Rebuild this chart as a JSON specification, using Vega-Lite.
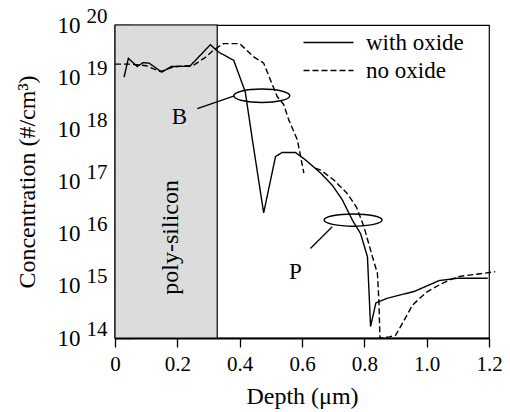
{
  "$schema": "https://vega.github.io/schema/vega-lite/v6.json",
  "width": 374,
  "height": 313,
  "autosize": {"type": "none"},
  "padding": {"left": 115, "top": 25, "right": 21, "bottom": 74},
  "background": "white",
  "config": {
    "font": "Liberation Serif",
    "view": {"stroke": "black", "strokeWidth": 1.2},
    "text": {"font": "Liberation Serif"},
    "axis": {"grid": false, "labelColor": "black", "titleColor": "black", "titleFontWeight": "normal", "labelFlush": false, "labelOverlap": false,
      "labelFont": "Liberation Serif", "titleFont": "Liberation Serif"},
    "legend": {"labelFont": "Liberation Serif"}
  },
  "datasets": {
    "poly": [{"x0": 0, "x1": 0.328, "y0": 1e14, "y1": 1e20}],
    "curves": [
      {"series": "with oxide", "curve": "solid", "x": 0.029, "c": 1.0e19},
      {"series": "with oxide", "curve": "solid", "x": 0.043, "c": 2.3e19},
      {"series": "with oxide", "curve": "solid", "x": 0.071, "c": 1.6e19},
      {"series": "with oxide", "curve": "solid", "x": 0.09, "c": 1.9e19},
      {"series": "with oxide", "curve": "solid", "x": 0.11, "c": 1.85e19},
      {"series": "with oxide", "curve": "solid", "x": 0.15, "c": 1.25e19},
      {"series": "with oxide", "curve": "solid", "x": 0.18, "c": 1.6e19},
      {"series": "with oxide", "curve": "solid", "x": 0.24, "c": 1.62e19},
      {"series": "with oxide", "curve": "solid", "x": 0.273, "c": 2.6e19},
      {"series": "with oxide", "curve": "solid", "x": 0.306, "c": 4.2e19},
      {"series": "with oxide", "curve": "solid", "x": 0.327, "c": 3.2e19},
      {"series": "with oxide", "curve": "solid", "x": 0.338, "c": 2.9e19},
      {"series": "with oxide", "curve": "solid", "x": 0.381, "c": 2.1e19},
      {"series": "with oxide", "curve": "solid", "x": 0.418, "c": 5.2e18},
      {"series": "with oxide", "curve": "solid", "x": 0.44, "c": 6.8e17},
      {"series": "with oxide", "curve": "solid", "x": 0.477, "c": 2.5e16},
      {"series": "with oxide", "curve": "solid", "x": 0.515, "c": 3.0e17},
      {"series": "with oxide", "curve": "solid", "x": 0.536, "c": 3.6e17},
      {"series": "with oxide", "curve": "solid", "x": 0.579, "c": 3.6e17},
      {"series": "with oxide", "curve": "solid", "x": 0.611, "c": 2.6e17},
      {"series": "with oxide", "curve": "solid", "x": 0.66, "c": 1.45e17},
      {"series": "with oxide", "curve": "solid", "x": 0.697, "c": 8.5e16},
      {"series": "with oxide", "curve": "solid", "x": 0.729, "c": 4.5e16},
      {"series": "with oxide", "curve": "solid", "x": 0.762, "c": 1.8e16},
      {"series": "with oxide", "curve": "solid", "x": 0.788, "c": 1.0e16},
      {"series": "with oxide", "curve": "solid", "x": 0.81, "c": 3.6e15},
      {"series": "with oxide", "curve": "solid", "x": 0.82, "c": 1.66e14},
      {"series": "with oxide", "curve": "solid", "x": 0.837, "c": 4.7e14},
      {"series": "with oxide", "curve": "solid", "x": 0.874, "c": 5.8e14},
      {"series": "with oxide", "curve": "solid", "x": 0.96, "c": 7.8e14},
      {"series": "with oxide", "curve": "solid", "x": 1.04, "c": 1.26e15},
      {"series": "with oxide", "curve": "solid", "x": 1.1, "c": 1.4e15},
      {"series": "with oxide", "curve": "solid", "x": 1.196, "c": 1.4e15},
      {"series": "no oxide", "curve": "B", "x": 0.0, "c": 1.78e19},
      {"series": "no oxide", "curve": "B", "x": 0.05, "c": 1.78e19},
      {"series": "no oxide", "curve": "B", "x": 0.1, "c": 1.66e19},
      {"series": "no oxide", "curve": "B", "x": 0.145, "c": 1.28e19},
      {"series": "no oxide", "curve": "B", "x": 0.19, "c": 1.6e19},
      {"series": "no oxide", "curve": "B", "x": 0.25, "c": 1.66e19},
      {"series": "no oxide", "curve": "B", "x": 0.29, "c": 2.4e19},
      {"series": "no oxide", "curve": "B", "x": 0.316, "c": 3.3e19},
      {"series": "no oxide", "curve": "B", "x": 0.348, "c": 4.4e19},
      {"series": "no oxide", "curve": "B", "x": 0.4, "c": 4.4e19},
      {"series": "no oxide", "curve": "B", "x": 0.445, "c": 2.45e19},
      {"series": "no oxide", "curve": "B", "x": 0.477, "c": 1.86e19},
      {"series": "no oxide", "curve": "B", "x": 0.52, "c": 4.3e18},
      {"series": "no oxide", "curve": "B", "x": 0.541, "c": 3.0e18},
      {"series": "no oxide", "curve": "B", "x": 0.558, "c": 1.5e18},
      {"series": "no oxide", "curve": "B", "x": 0.585, "c": 6.3e17},
      {"series": "no oxide", "curve": "B", "x": 0.606, "c": 1.45e17},
      {"series": "no oxide", "curve": "P", "x": 0.643, "c": 1.8e17},
      {"series": "no oxide", "curve": "P", "x": 0.66, "c": 1.66e17},
      {"series": "no oxide", "curve": "P", "x": 0.702, "c": 1.07e17},
      {"series": "no oxide", "curve": "P", "x": 0.745, "c": 5.9e16},
      {"series": "no oxide", "curve": "P", "x": 0.775, "c": 3.2e16},
      {"series": "no oxide", "curve": "P", "x": 0.799, "c": 1.35e16},
      {"series": "no oxide", "curve": "P", "x": 0.826, "c": 3.6e15},
      {"series": "no oxide", "curve": "P", "x": 0.842, "c": 1.74e15},
      {"series": "no oxide", "curve": "P", "x": 0.847, "c": 4.7e14},
      {"series": "no oxide", "curve": "P", "x": 0.85, "c": 1.0e14},
      {"series": "no oxide", "curve": "P", "x": 0.88, "c": 1.05e14},
      {"series": "no oxide", "curve": "P", "x": 0.9, "c": 1.12e14},
      {"series": "no oxide", "curve": "P", "x": 0.915, "c": 1.6e14},
      {"series": "no oxide", "curve": "P", "x": 0.955, "c": 4.3e14},
      {"series": "no oxide", "curve": "P", "x": 1.0, "c": 7.6e14},
      {"series": "no oxide", "curve": "P", "x": 1.05, "c": 1.12e15},
      {"series": "no oxide", "curve": "P", "x": 1.1, "c": 1.5e15},
      {"series": "no oxide", "curve": "P", "x": 1.22, "c": 1.86e15}
    ],
    "region": [{"label": "poly-silicon", "x": 0.18, "c": 8.5e15}],
    "letters": [
      {"label": "B", "x": 0.207, "c": 1.7e18},
      {"label": "P", "x": 0.579, "c": 1.88e15}
    ],
    "leaders": [
      {"x": 0.264, "c": 2.5e18, "x2": 0.383, "c2": 4.4e18},
      {"x": 0.627, "c": 5.2e15, "x2": 0.697, "c2": 1.36e16}
    ],
    "ellipses": [
      {"name": "B", "x": 0.471, "c": 4.4e18},
      {"name": "P", "x": 0.764, "c": 1.82e16}
    ]
  },
  "resolve": {"scale": {"y": "shared"}, "axis": {"y": "independent"}},
  "layer": [
    {
      "data": {"name": "poly"},
      "mark": {"type": "rect", "fill": "#dcdcdc", "stroke": "black", "strokeWidth": 1.2},
      "encoding": {
        "x": {"field": "x0", "type": "quantitative", "scale": {"domain": [0, 1.2], "nice": false},
          "axis": {"values": [0, 0.2, 0.4, 0.6, 0.8, 1.0, 1.2], "labelExpr": "datum.value == 0 ? '0' : format(datum.value, '.1f')",
            "title": "Depth (μm)", "tickSize": 9, "tickWidth": 1.3, "tickColor": "black", "domainColor": "black", "domainWidth": 2,
            "labelFontSize": 21, "labelPadding": 6, "titleFontSize": 24, "titlePadding": 10}},
        "x2": {"field": "x1"},
        "y": {"field": "y0", "type": "quantitative", "scale": {"type": "log", "domain": [1e14, 1e20], "nice": false},
          "axis": {"orient": "left", "values": [1e14, 1e15, 1e16, 1e17, 1e18, 1e19, 1e20],
            "labelExpr": "format(log(datum.value) / LN10, '.0f')", "tickSize": -18, "tickWidth": 1.3, "tickColor": "black",
            "labelPadding": 26, "labelOffset": -9, "labelFontSize": 21, "title": null, "domainColor": "black", "domainWidth": 1.5}},
        "y2": {"field": "y1"}
      }
    },
    {
      "data": {"name": "curves"},
      "mark": {"type": "line", "color": "black", "strokeWidth": 1.4},
      "encoding": {
        "x": {"field": "x", "type": "quantitative"},
        "y": {"field": "c", "type": "quantitative", "scale": {"type": "log", "domain": [1e14, 1e20], "nice": false},
          "axis": {"orient": "left", "values": [1e14, 1e15, 1e16, 1e17, 1e18, 1e19, 1e20], "labelExpr": "'10'",
            "ticks": false, "domain": false, "labelPadding": 35, "labelFontSize": 23,
            "title": "Concentration (#/cm³)", "titleFontSize": 24, "titlePadding": 18}},
        "strokeDash": {"field": "series", "type": "nominal",
          "scale": {"domain": ["with oxide", "no oxide"], "range": [[1, 0], [6, 3]]},
          "legend": {"orient": "none", "legendX": 202, "legendY": 6, "title": null, "symbolType": "M-4,0H4", "symbolSize": 156.25,
            "symbolStrokeWidth": 1.4, "symbolStrokeColor": "black", "labelFontSize": 23, "labelColor": "black", "labelOffset": 26,
            "labelFont": "Liberation Serif", "rowPadding": 4}},
        "detail": {"field": "curve", "type": "nominal"}
      }
    },
    {
      "data": {"name": "region"},
      "mark": {"type": "text", "angle": 270, "fontSize": 24, "font": "Liberation Serif", "color": "black", "align": "center", "baseline": "middle"},
      "encoding": {
        "x": {"field": "x", "type": "quantitative"},
        "y": {"field": "c", "type": "quantitative", "scale": {"type": "log", "domain": [1e14, 1e20], "nice": false}, "axis": null},
        "text": {"field": "label"}
      }
    },
    {
      "data": {"name": "letters"},
      "mark": {"type": "text", "fontSize": 23, "font": "Liberation Serif", "color": "black", "align": "center", "baseline": "middle"},
      "encoding": {
        "x": {"field": "x", "type": "quantitative"},
        "y": {"field": "c", "type": "quantitative", "scale": {"type": "log", "domain": [1e14, 1e20], "nice": false}, "axis": null},
        "text": {"field": "label"}
      }
    },
    {
      "data": {"name": "leaders"},
      "mark": {"type": "rule", "color": "black", "strokeWidth": 1.3},
      "encoding": {
        "x": {"field": "x", "type": "quantitative"},
        "y": {"field": "c", "type": "quantitative", "scale": {"type": "log", "domain": [1e14, 1e20], "nice": false}, "axis": null},
        "x2": {"field": "x2"},
        "y2": {"field": "c2"}
      }
    },
    {
      "data": {"name": "ellipses"},
      "transform": [{"filter": "datum.name == 'B'"}],
      "mark": {"type": "point", "shape": "M-1,0A1,0.24,0,1,0,1,0A1,0.24,0,1,0,-1,0Z", "size": 3136, "filled": false, "stroke": "black", "strokeWidth": 1.4, "opacity": 1},
      "encoding": {
        "x": {"field": "x", "type": "quantitative"},
        "y": {"field": "c", "type": "quantitative", "scale": {"type": "log", "domain": [1e14, 1e20], "nice": false}, "axis": null}
      }
    },
    {
      "data": {"name": "ellipses"},
      "transform": [{"filter": "datum.name == 'P'"}],
      "mark": {"type": "point", "shape": "M-1,0A1,0.21,0,1,0,1,0A1,0.21,0,1,0,-1,0Z", "size": 3364, "filled": false, "stroke": "black", "strokeWidth": 1.4, "opacity": 1},
      "encoding": {
        "x": {"field": "x", "type": "quantitative"},
        "y": {"field": "c", "type": "quantitative", "scale": {"type": "log", "domain": [1e14, 1e20], "nice": false}, "axis": null}
      }
    }
  ]
}
